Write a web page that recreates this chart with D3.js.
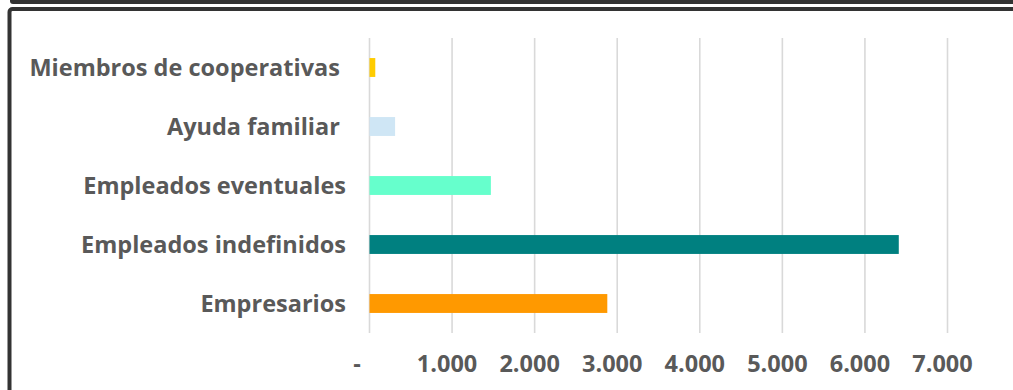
<!DOCTYPE html>
<html>
<head>
<meta charset="utf-8">
<script src="https://cdn.jsdelivr.net/npm/d3@7"></script>
<style>
  html, body { margin: 0; padding: 0; background: #ffffff; }
  svg { display: block; }
  text { font-family: "Open Sans", sans-serif; font-weight: 700; fill: #595959; white-space: pre; }
</style>
</head>
<body>
<svg id="chart" width="1013" height="390"></svg>
<script>
// Categories top to bottom (trailing spaces are part of the labels)
const categories = [
  "Miembros de cooperativas ",
  "Ayuda familiar ",
  "Empleados eventuales",
  "Empleados indefinidos",
  "Empresarios"
];
const values = [70, 310, 1470, 6410, 2880];
const barColors = ["#FFCC00", "#CFE6F5", "#66FFCC", "#008080", "#FF9900"];
const tickValues = [0, 1000, 2000, 3000, 4000, 5000, 6000, 7000];
const tickLabels = ["-", "1.000", "2.000", "3.000", "4.000", "5.000", "6.000", "7.000"];

const svg = d3.select("#chart");

// Frame: strip of the panel above, then this panel's dark border
svg.append("rect")
  .attr("x", 10).attr("y", -12).attr("width", 1100).attr("height", 16)
  .attr("rx", 3).attr("fill", "#333333");
svg.append("rect")
  .attr("x", 9.5).attr("y", 9).attr("width", 1100).attr("height", 420)
  .attr("rx", 3).attr("fill", "#ffffff")
  .attr("stroke", "#333333").attr("stroke-width", 4);

const x = d3.scaleLinear().domain([0, 7000]).range([369.5, 947.5]);
const y = d3.scaleBand().domain(categories).range([38, 333])
  .paddingInner(0.68).paddingOuter(0.34);

// Vertical gridlines
svg.append("g")
  .selectAll("line")
  .data(tickValues)
  .join("line")
  .attr("x1", d => x(d)).attr("x2", d => x(d))
  .attr("y1", 38).attr("y2", 333)
  .attr("stroke", "#d9d9d9").attr("stroke-width", 1.6);

// Bars
svg.append("g")
  .selectAll("rect")
  .data(values)
  .join("rect")
  .attr("x", x(0))
  .attr("y", (d, i) => y(categories[i]))
  .attr("width", d => x(d) - x(0))
  .attr("height", y.bandwidth())
  .attr("fill", (d, i) => barColors[i]);

// Category labels
svg.append("g")
  .selectAll("text")
  .data(categories)
  .join("text")
  .attr("x", 346)
  .attr("y", d => y(d) + y.bandwidth() / 2 + 8.5)
  .attr("text-anchor", "end")
  .style("font-size", "23.5px")
  .text(d => d);

// Value axis labels
const xAxis = d3.axisBottom(x)
  .tickValues(tickValues)
  .tickFormat((d, i) => tickLabels[i])
  .tickSize(0);
const axisG = svg.append("g")
  .attr("transform", "translate(0,355)")
  .call(xAxis);
axisG.select(".domain").remove();
axisG.selectAll("text")
  .attr("y", 0).attr("dy", "0.72em")
  .attr("dx", (d, i) => i === 0 ? -13 : -5.5)
  .style("font-size", "23.5px")
  .style("font-family", "'Open Sans', sans-serif")
  .style("font-weight", "700")
  .attr("fill", "#595959");
</script>
</body>
</html>
